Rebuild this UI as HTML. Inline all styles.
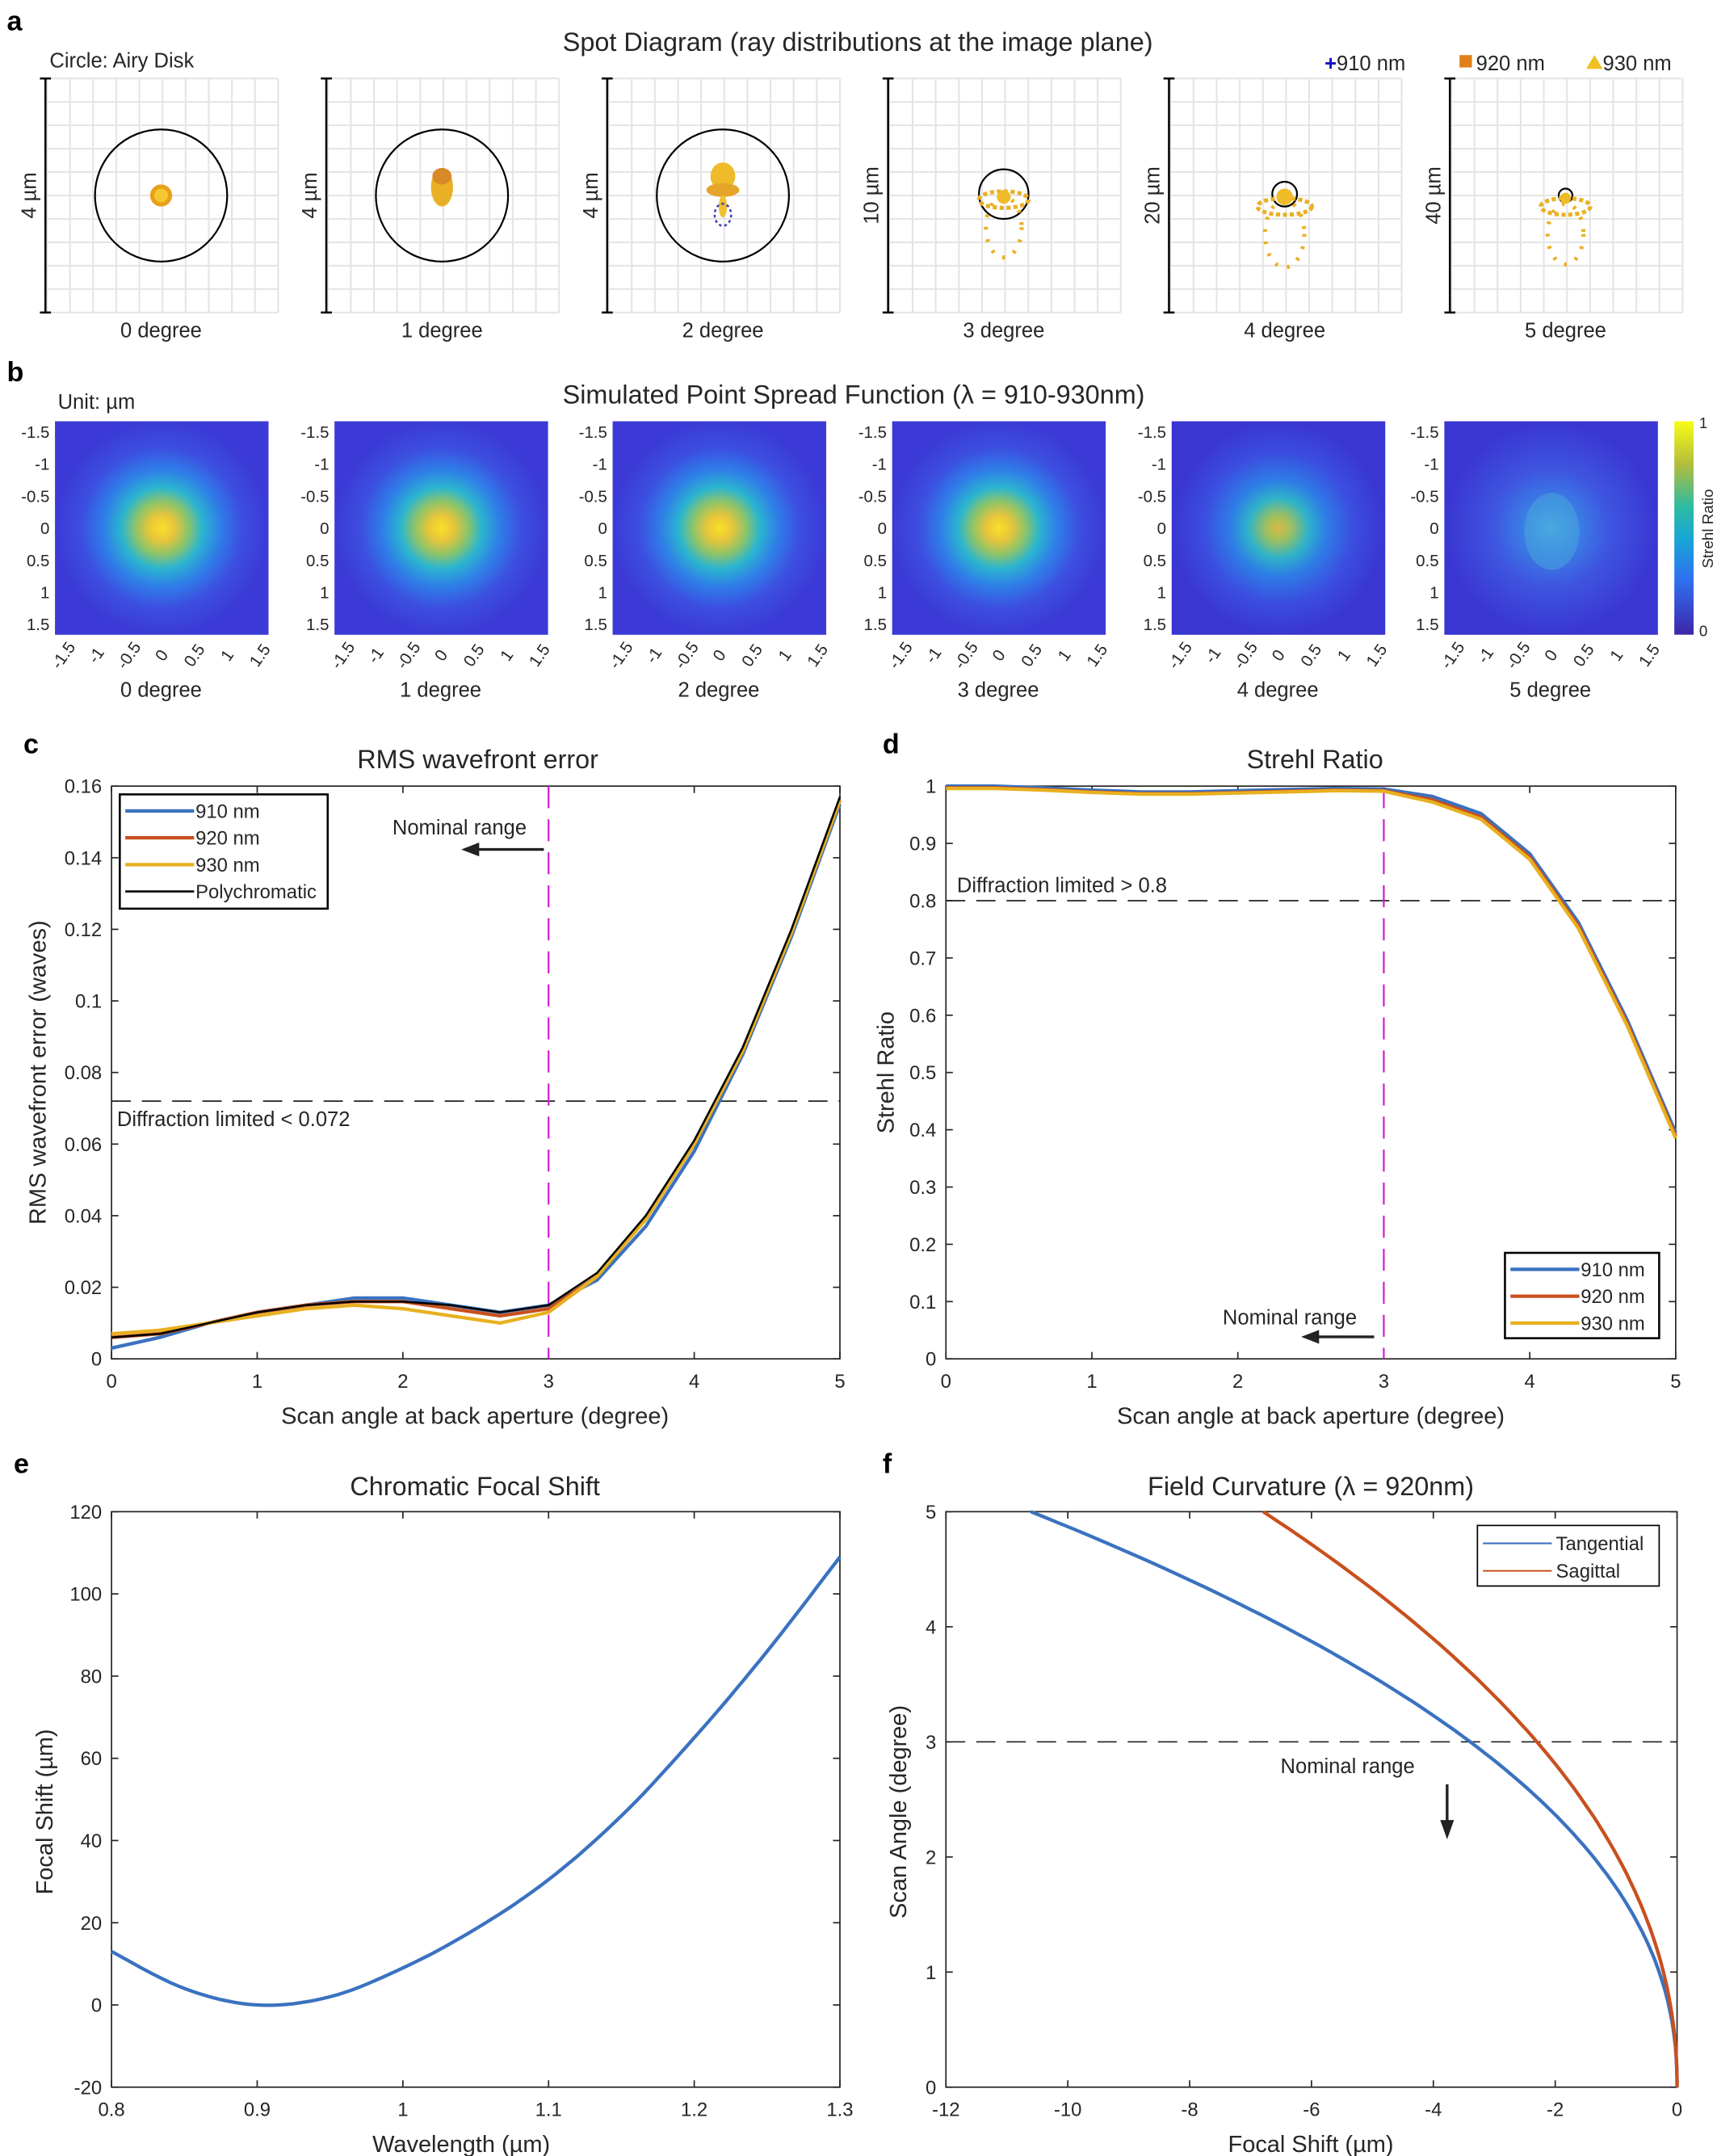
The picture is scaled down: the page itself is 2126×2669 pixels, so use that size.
<!DOCTYPE html>
<html><head><meta charset="utf-8"><style>
html,body{margin:0;padding:0;background:#fff}
svg{display:block}
text{font-family:"Liberation Sans",sans-serif;fill:#262626}
</style></head><body>
<svg id="s" width="2126" height="2669" viewBox="0 0 1247 1566" preserveAspectRatio="none" xmlns="http://www.w3.org/2000/svg">
<defs>
<radialGradient id="psf" cx="0.5" cy="0.5" r="0.5">
<stop offset="0" stop-color="#f8e02a"/><stop offset="0.12" stop-color="#e8c53a"/><stop offset="0.25" stop-color="#8cc46a"/><stop offset="0.38" stop-color="#2bb5cf"/><stop offset="0.55" stop-color="#2f7ee8"/><stop offset="0.75" stop-color="#3c4fe0"/><stop offset="1" stop-color="#3b3ad6"/>
</radialGradient>
<radialGradient id="psf4" cx="0.5" cy="0.5" r="0.5">
<stop offset="0" stop-color="#d8b845"/><stop offset="0.12" stop-color="#9cc060"/><stop offset="0.28" stop-color="#2fb3c8"/><stop offset="0.45" stop-color="#2e7de6"/><stop offset="0.7" stop-color="#3b4ee0"/><stop offset="1" stop-color="#3a36d2"/>
</radialGradient>
<radialGradient id="psf5" cx="0.5" cy="0.5" r="0.5">
<stop offset="0" stop-color="#4aa8e0"/><stop offset="0.25" stop-color="#3a80e6"/><stop offset="0.55" stop-color="#3e55e0"/><stop offset="1" stop-color="#3a36d2"/>
</radialGradient>
<linearGradient id="cb" x1="0" y1="1" x2="0" y2="0">
<stop offset="0" stop-color="#3e26a8"/><stop offset="0.25" stop-color="#2f6ff0"/><stop offset="0.45" stop-color="#18a6d6"/><stop offset="0.6" stop-color="#2cbca0"/><stop offset="0.8" stop-color="#b4bd3c"/><stop offset="1" stop-color="#f9fb14"/>
</linearGradient>
</defs>
<g id="g"></g>
</svg>
<script>
const g=document.getElementById('g');let h='';
function T(x,y,s,t,a,extra){h+=`<text x="${x}" y="${y}" font-size="${s}" text-anchor="${a||'start'}" ${extra||''}>${t}</text>`;}
function L(x1,y1,x2,y2,c,w,d){h+=`<line x1="${x1}" y1="${y1}" x2="${x2}" y2="${y2}" stroke="${c||'#262626'}" stroke-width="${w||1}" ${d?`stroke-dasharray="${d}"`:''}/>`;}
T(5,22,20,'a','start','font-weight="bold" style="fill:#000"');
T(623,37,19,'Spot Diagram (ray distributions at the image plane)','middle');
T(36,49,15,'Circle: Airy Disk');
T(962,51,15,'<tspan style="fill:#1010c0" font-weight="bold">+</tspan>910 nm');
h+='<rect x="1060" y="40" width="9" height="9" fill="#e0801a"/>';T(1072,51,15,'920 nm');
h+='<polygon points="1152,50 1158,40 1164,50" fill="#f0c020"/>';T(1164,51,15,'930 nm');
const bx=[33,237,441,645,849,1053],lab=['4 µm','4 µm','4 µm','10 µm','20 µm','40 µm'];
const circ=[[142,48],[142,48],[142,48],[141,18],[141,9],[142,5]];
bx.forEach((x,i)=>{
 for(let k=0;k<=10;k++){const xx=x+1+k*16.8;L(xx,57,xx,227,'#e4e4e4',1.2);const yy=57+k*17;L(x+1,yy,x+169,yy,'#e4e4e4',1.2);}
 L(x,57,x,227,'#000',1.5);L(x-4,57,x+4,57,'#000',1.5);L(x-4,227,x+4,227,'#000',1.5);
 T(x-12,142,15,lab[i],'middle',`transform="rotate(-90 ${x-12} 142)" dy="5"`);
 const cx=x+84;T(cx,245,15,i+' degree','middle');
 h+=`<circle cx="${cx}" cy="${circ[i][0]}" r="${circ[i][1]}" fill="none" stroke="#000" stroke-width="1.3"/>`;
 if(i==0){h+=`<circle cx="${cx}" cy="142" r="8" fill="#e8a018"/><circle cx="${cx}" cy="142" r="5" fill="#f5c830"/>`;}
 if(i==1){h+=`<ellipse cx="${cx}" cy="136" rx="8" ry="14" fill="#eab025"/><ellipse cx="${cx}" cy="128" rx="7" ry="6" fill="#d88a28"/>`;}
 if(i==2){h+=`<ellipse cx="${cx}" cy="128" rx="9" ry="10" fill="#efbb28"/><ellipse cx="${cx}" cy="138" rx="12" ry="5" fill="#e5a52a"/><ellipse cx="${cx}" cy="150" rx="3" ry="8" fill="#f0c030"/><ellipse cx="${cx}" cy="156" rx="6" ry="8" fill="none" stroke="#4040c0" stroke-width="1.5" stroke-dasharray="2 2"/>`;}
 if(i>=3){const sc=[0,0,0,1,1.1,1][i];const top=[0,0,0,145,150,150][i];
   h+=`<ellipse cx="${cx}" cy="${top}" rx="${18*sc}" ry="6" fill="none" stroke="#eab025" stroke-width="3" stroke-dasharray="3 2"/>`;
   h+=`<ellipse cx="${cx}" cy="${top+20}" rx="${13*sc}" ry="${22*sc}" fill="none" stroke="#eab025" stroke-width="3" stroke-dasharray="2 7"/>`;
   h+=`<circle cx="${cx}" cy="${circ[i][0]+2}" r="${[0,0,0,5,6,4][i]}" fill="#efbb28"/>`;}
});
T(5,277,20,'b','start','font-weight="bold" style="fill:#000"');
T(620,293,19,'Simulated Point Spread Function (λ = 910-930nm)','middle');
T(42,297,15,'Unit: µm');
const px=[40,243,445,648,851,1049],yt=['-1.5','-1','-0.5','0','0.5','1','1.5'];
px.forEach((x,i)=>{
 const f=i<4?'psf':(i==4?'psf4':'psf5');
 h+=`<rect x="${x}" y="306" width="155" height="155" fill="#3b3ad6"/><rect x="${x}" y="306" width="155" height="155" fill="url(#${f})"/>`;
 if(i==5)h+=`<ellipse cx="${x+78}" cy="386" rx="20" ry="28" fill="#4aa8dc" opacity="0.5"/>`;
 yt.forEach((t,k)=>{const y=314+k*23.3;T(x-4,y+4,12,t,'end');
   const xx=x+6+k*23.8;T(xx,480,12,t,'middle',`transform="rotate(-55 ${xx} 476)"`);});
 T(x+77,506,15,i+' degree','middle');
});
h+='<rect x="1216" y="306" width="14" height="155" fill="url(#cb)"/>';
T(1234,311,11,'1');T(1234,462,11,'0');T(1244,384,11,'Strehl Ratio','middle','transform="rotate(-90 1244 384)"');
function axes(x0,y0,x1,y1,xt,xl,yt,yl){
 h+=`<rect x="${x0}" y="${y0}" width="${x1-x0}" height="${y1-y0}" fill="none" stroke="#262626" stroke-width="1"/>`;
 xt.forEach(([v,t])=>{const x=x0+(x1-x0)*v;L(x,y1,x,y1-5);L(x,y0,x,y0+5);T(x,y1+21,14,t,'middle');});
 yt.forEach(([v,t])=>{const y=y1-(y1-y0)*v;L(x0,y,x0+5,y);L(x1,y,x1-5,y);T(x0-7,y+5,14,t,'end');});
}
function path(pts,fx,fy,c,w){h+=`<path d="${pts.map((p,k)=>(k?'L':'M')+fx(p[0]).toFixed(1)+','+fy(p[1]).toFixed(1)).join('')}" fill="none" stroke="${c}" stroke-width="${w||2}"/>`;}
T(17,547,20,'c','start','font-weight="bold" style="fill:#000"');
T(347,558,19,'RMS wavefront error','middle');
const cx0=81,cx1=610,cy0=571,cy1=987;
axes(cx0,cy0,cx1,cy1,[0,1,2,3,4,5].map(v=>[v/5,''+v]),'',[0,.02,.04,.06,.08,.1,.12,.14,.16].map(v=>[v/.16,''+v]));
T(345,1034,17,'Scan angle at back aperture (degree)','middle');
T(33,779,17,'RMS wavefront error (waves)','middle','transform="rotate(-90 33 779)"');
const xs=[0,.333,.667,1,1.333,1.667,2,2.333,2.667,3,3.333,3.667,4,4.333,4.667,5];
const fxC=v=>cx0+(cx1-cx0)*v/5,fyC=v=>cy1-(cy1-cy0)*v/.16;
const d910=[.003,.006,.010,.013,.015,.017,.017,.015,.013,.015,.022,.037,.058,.085,.118,.155];
const d920=[.006,.007,.010,.013,.015,.016,.016,.014,.012,.014,.023,.039,.060,.086,.119,.156];
const d930=[.007,.008,.010,.012,.014,.015,.014,.012,.010,.013,.023,.039,.060,.086,.119,.156];
const dP=[.006,.007,.010,.013,.015,.016,.016,.015,.013,.015,.024,.040,.061,.087,.120,.157];
L(cx0,fyC(.072),cx1,fyC(.072),'#222',1,'14 8');
L(fxC(3),cy0,fxC(3),cy1,'#d020d0',1.3,'16 8');
path(xs.map((x,k)=>[x,d910[k]]),fxC,fyC,'#3a72c0',2.5);
path(xs.map((x,k)=>[x,d920[k]]),fxC,fyC,'#c8501e',2.5);
path(xs.map((x,k)=>[x,d930[k]]),fxC,fyC,'#e8b020',2.5);
path(xs.map((x,k)=>[x,dP[k]]),fxC,fyC,'#000',1.5);
T(85,818,15,'Diffraction limited &lt; 0.072');
T(285,606,15,'Nominal range');L(395,617,345,617,'#222',2);h+='<polygon points="335,617 348,612 348,622" fill="#222"/>';
h+='<rect x="87" y="577" width="151" height="83" fill="#fff" stroke="#000" stroke-width="1.5"/>';
[['910 nm','#3a72c0'],['920 nm','#c8501e'],['930 nm','#e8b020'],['Polychromatic','#000']].forEach(([t,c],k)=>{const y=589+k*19.5;L(91,y,141,y,c,k==3?1.5:2.5);T(142,y+5,14,t);});
T(641,547,20,'d','start','font-weight="bold" style="fill:#000"');
T(955,558,19,'Strehl Ratio','middle');
const dx0=687,dx1=1217;
axes(dx0,cy0,dx1,cy1,[0,1,2,3,4,5].map(v=>[v/5,''+v]),'',[0,.1,.2,.3,.4,.5,.6,.7,.8,.9,1].map(v=>[v,''+v]));
T(952,1034,17,'Scan angle at back aperture (degree)','middle');
T(649,779,17,'Strehl Ratio','middle','transform="rotate(-90 649 779)"');
const fxD=v=>dx0+(dx1-dx0)*v/5,fyD=v=>cy1-(cy1-cy0)*v;
const s910=[1,1,.997,.993,.99,.99,.992,.994,.996,.995,.982,.952,.882,.762,.592,.395];
L(dx0,fyD(.8),dx1,fyD(.8),'#222',1,'14 8');
L(fxD(3),cy0,fxD(3),cy1,'#d020d0',1.3,'16 8');
path(xs.map((x,k)=>[x,s910[k]]),fxD,fyD,'#3a72c0',2.5);
path(xs.map((x,k)=>[x,s910[k]-(x>3?.006:.003)]),fxD,fyD,'#c8501e',2.5);
path(xs.map((x,k)=>[x,s910[k]-(x>3?.01:.004)]),fxD,fyD,'#e8b020',2.5);
T(695,648,15,'Diffraction limited &gt; 0.8');
T(888,962,15,'Nominal range');L(998,971,955,971,'#222',2);h+='<polygon points="945,971 958,966 958,976" fill="#222"/>';
h+='<rect x="1093" y="910" width="112" height="62" fill="#fff" stroke="#000" stroke-width="1.5"/>';
[['910 nm','#3a72c0'],['920 nm','#c8501e'],['930 nm','#e8b020']].forEach(([t,c],k)=>{const y=922+k*19.5;L(1097,y,1147,y,c,2.5);T(1148,y+5,14,t);});
T(10,1070,20,'e','start','font-weight="bold" style="fill:#000"');
T(345,1086,19,'Chromatic Focal Shift','middle');
const ex0=81,ex1=610,ey0=1098,ey1=1516;
axes(ex0,ey0,ex1,ey1,[.8,.9,1,1.1,1.2,1.3].map(v=>[(v-.8)/.5,''+v]),'',[-20,0,20,40,60,80,100,120].map(v=>[(v+20)/140,''+v]));
T(335,1563,17,'Wavelength (µm)','middle');
T(38,1316,17,'Focal Shift (µm)','middle','transform="rotate(-90 38 1316)"');
const ep=[[.8,13],[.85,4],[.9,0],[.95,2],[1,9],[1.05,18.5],[1.1,30.5],[1.15,46],[1.2,65],[1.25,86],[1.3,109]];
function cr(p,n){const o=[];for(let i=0;i<p.length-1;i++){const p0=p[Math.max(0,i-1)],p1=p[i],p2=p[i+1],p3=p[Math.min(p.length-1,i+2)];for(let t=0;t<n;t++){const s=t/n,s2=s*s,s3=s2*s;const f=(a,b,c,d)=>0.5*((2*b)+(-a+c)*s+(2*a-5*b+4*c-d)*s2+(-a+3*b-3*c+d)*s3);o.push([f(p0[0],p1[0],p2[0],p3[0]),f(p0[1],p1[1],p2[1],p3[1])]);}}o.push(p[p.length-1]);return o;}
path(cr(ep,10),v=>ex0+(ex1-ex0)*(v-.8)/.5,v=>ey1-(ey1-ey0)*(v+20)/140,'#3a72c0',2.5);
T(641,1070,20,'f','start','font-weight="bold" style="fill:#000"');
T(952,1086,19,'Field Curvature (λ = 920nm)','middle');
const fx0=687,fx1=1218;
axes(fx0,ey0,fx1,ey1,[-12,-10,-8,-6,-4,-2,0].map(v=>[(v+12)/12,''+v]),'',[0,1,2,3,4,5].map(v=>[v/5,''+v]));
T(952,1563,17,'Focal Shift (µm)','middle');
T(658,1316,17,'Scan Angle (degree)','middle','transform="rotate(-90 658 1316)"');
const fxF=v=>fx0+(fx1-fx0)*(v+12)/12,fyF=v=>ey1-(ey1-ey0)*v/5;
L(fx0,fyF(3),fx1,fyF(3),'#222',1,'14 8');
const tp=[],sp=[];for(let y=0;y<=5.0001;y+=0.05){tp.push([-0.293*Math.pow(y,2.23),y]);sp.push([-0.224*Math.pow(y,2.12),y]);}
path(tp,fxF,fyF,'#3a72c0',2.5);path(sp,fxF,fyF,'#c8501e',2.5);
T(930,1288,15,'Nominal range');L(1051,1296,1051,1325,'#222',2);h+='<polygon points="1051,1336 1046,1322 1056,1322" fill="#222"/>';
h+='<rect x="1073" y="1108" width="132" height="44" fill="#fff" stroke="#000" stroke-width="1"/>';
L(1077,1121,1127,1121,'#3a72c0',1.2);T(1130,1126,14,'Tangential');
L(1077,1141,1127,1141,'#c8501e',1.2);T(1130,1146,14,'Sagittal');
g.innerHTML=h;
</script>
</body></html>
